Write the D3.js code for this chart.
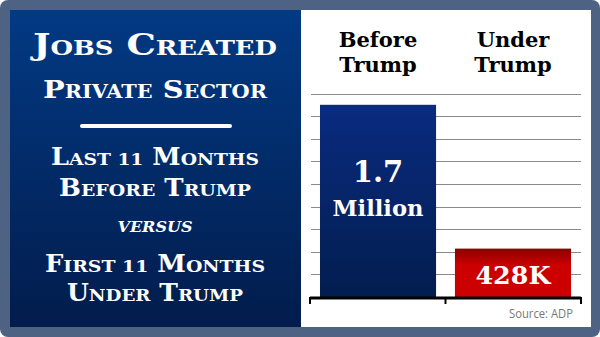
<!DOCTYPE html>
<html><head><meta charset="utf-8">
<script src="https://cdn.jsdelivr.net/npm/d3@7"></script>
<style>html,body{margin:0;padding:0;background:#fff;}svg{display:block;}</style>
</head><body>
<svg id="chart" width="600" height="337"></svg>
<script>
// ---- data ----
const categories = ["Before Trump", "Under Trump"];
const headerLines = [["Before", "Trump"], ["Under", "Trump"]];
const values = [1700000, 428000];
const valueLabels = [["1.7", "Million"], ["428K"]];
const titleLines = ["Jobs Created", "Private Sector"];
const subtitleLines = ["Last 11 Months", "Before Trump", "versus", "First 11 Months", "Under Trump"];
const sourceText = "Source: ADP";

// ---- layout ----
const svg = d3.select("#chart");
const W = 600, H = 337;
const serif = "'DejaVu Serif', 'Liberation Serif', serif";
const defs = svg.append("defs");
function grad(id, stops) {
  const g = defs.append("linearGradient").attr("id", id).attr("x1", 0).attr("y1", 0).attr("x2", 0).attr("y2", 1);
  stops.forEach(s => g.append("stop").attr("offset", s[0]).attr("stop-color", s[1]));
}
grad("gLeft", [[0, "#023a84"], [1, "#021c4c"]]);
grad("gBlue", [[0, "#0a2b80"], [1, "#021d4e"]]);
grad("gRed", [[0, "#8a0000"], [0.35, "#cc0000"], [1, "#cc0000"]]);

// frame
svg.append("rect").attr("x", 0).attr("y", 0).attr("width", W).attr("height", H).attr("rx", 8).attr("fill", "#4e6383");
svg.append("rect").attr("x", 10).attr("y", 10).attr("width", 291).attr("height", 317).attr("fill", "url(#gLeft)");
svg.append("rect").attr("x", 301).attr("y", 10).attr("width", 290).attr("height", 317).attr("fill", "#fff");

// ---- left panel text with manual small caps ----
function smallCaps(g, str, x, y, big, small, width, italic) {
  const t = g.append("text").attr("x", x).attr("y", y).attr("text-anchor", "middle")
    .attr("fill", "#fff").attr("font-family", serif).attr("font-weight", "bold")
    .attr("font-style", italic ? "italic" : "normal");
  str.split(" ").forEach((w, i) => {
    const prefix = i > 0 ? " " : "";
    const isWord = /[A-Za-z]/.test(w[0]) && w[0] === w[0].toUpperCase();
    if (isWord) {
      t.append("tspan").attr("font-size", big).text(prefix + w[0].toUpperCase());
      if (w.length > 1) t.append("tspan").attr("font-size", small).text(w.slice(1).toUpperCase());
    } else {
      t.append("tspan").attr("font-size", small).text(prefix + w.toUpperCase());
    }
  });
  if (width) t.attr("textLength", width).attr("lengthAdjust", "spacingAndGlyphs");
  return t;
}
const L = svg.append("g");
const cx = 155;
smallCaps(L, titleLines[0], cx, 55, 30, 21, 244);
smallCaps(L, titleLines[1], cx, 98, 25, 18, 224);
L.append("line").attr("x1", 82).attr("x2", 230).attr("y1", 126).attr("y2", 126)
  .attr("stroke", "#fff").attr("stroke-width", 4).attr("stroke-linecap", "round");
smallCaps(L, subtitleLines[0], cx, 165, 24, 17.5, 208);
smallCaps(L, subtitleLines[1], cx, 196, 24, 17.5, 192);
smallCaps(L, subtitleLines[2], cx, 231.5, 15, 15, 75, true);
smallCaps(L, subtitleLines[3], cx, 271.5, 24, 17.5, 220);
smallCaps(L, subtitleLines[4], cx, 300.5, 24, 17.5, 176);

// ---- chart ----
const x = d3.scaleBand().domain(categories).range([310, 581]).paddingInner(0.14).paddingOuter(0.074);
const y = d3.scaleLinear().domain([0, 1800000]).range([297, 93.5]);

// gridlines
svg.append("g").selectAll("line").data(y.ticks(10).filter(d => d > 0)).join("line")
  .attr("x1", 311).attr("x2", 581)
  .attr("y1", d => Math.round(y(d)) + 0.5).attr("y2", d => Math.round(y(d)) + 0.5)
  .attr("stroke", "#8a8a8a").attr("stroke-width", 1);

// bars
const fills = ["url(#gBlue)", "url(#gRed)"];
svg.append("g").selectAll("rect").data(values).join("rect")
  .attr("x", (d, i) => x(categories[i])).attr("width", x.bandwidth())
  .attr("y", d => y(d)).attr("height", d => y(0) - y(d))
  .attr("fill", (d, i) => fills[i]);

// value labels
const lab = svg.append("g").attr("fill", "#fff").attr("font-family", serif).attr("font-weight", "bold").attr("text-anchor", "middle");
lab.append("text").attr("x", x(categories[0]) + x.bandwidth() / 2).attr("y", 182).attr("font-size", 29).text(valueLabels[0][0]);
lab.append("text").attr("x", x(categories[0]) + x.bandwidth() / 2).attr("y", 215.5).attr("font-size", 22)
  .attr("textLength", 91).attr("lengthAdjust", "spacingAndGlyphs").text(valueLabels[0][1]);
lab.append("text").attr("x", x(categories[1]) + x.bandwidth() / 2).attr("y", 283.5).attr("font-size", 25)
  .attr("textLength", 75).attr("lengthAdjust", "spacingAndGlyphs").text(valueLabels[1][0]);

// headers
const hd = svg.append("g").attr("fill", "#000").attr("font-family", serif).attr("font-weight", "bold").attr("text-anchor", "middle").attr("font-size", 21);
categories.forEach((c, i) => {
  headerLines[i].forEach((ln, j) => {
    hd.append("text").attr("x", x(c) + x.bandwidth() / 2).attr("y", 47 + j * 25).text(ln);
  });
});

// axis bracket
const ax = svg.append("g").attr("stroke", "#000");
const [r0, r1] = x.range();
ax.append("line").attr("x1", r0).attr("x2", r1).attr("y1", 298).attr("y2", 298).attr("stroke-width", 3);
const tickXs = [r0, x(categories[1]) - x.step() * x.paddingInner() / 2, r1];
ax.selectAll("line.t").data(tickXs).join("line").attr("class", "t")
  .attr("x1", d => d).attr("x2", d => d).attr("y1", 297).attr("y2", 304).attr("stroke-width", 2);

// source
svg.append("text").attr("x", 573).attr("y", 318).attr("text-anchor", "end")
  .attr("font-family", "'Open Sans', 'Liberation Sans', sans-serif").attr("font-size", 12)
  .attr("textLength", 64).attr("lengthAdjust", "spacingAndGlyphs")
  .attr("fill", "#777").text(sourceText);
</script>
</body></html>
